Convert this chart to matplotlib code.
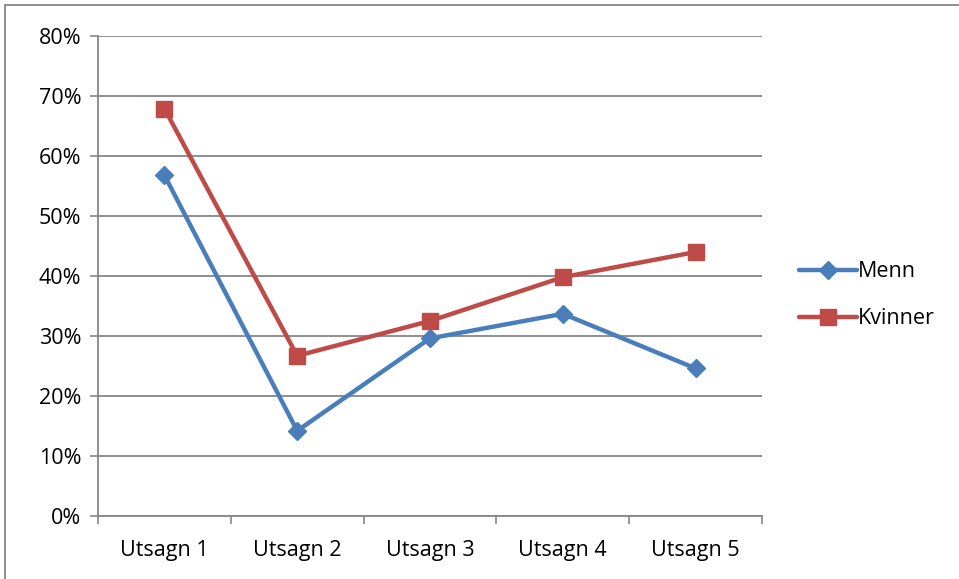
import matplotlib
matplotlib.use('Agg')
import matplotlib.pyplot as plt
from matplotlib.patches import Rectangle
from matplotlib.ticker import FixedLocator, PercentFormatter

categories = ['Utsagn 1', 'Utsagn 2', 'Utsagn 3', 'Utsagn 4', 'Utsagn 5']
menn = [56.8, 14.2, 29.6, 33.7, 24.6]
kvinner = [67.9, 26.7, 32.5, 39.8, 44.0]

plt.rcParams['font.family'] = ['Open Sans', 'DejaVu Sans']

fig = plt.figure(figsize=(9.59, 5.79), dpi=100)
ax = fig.add_axes([98 / 959, 1 - 516 / 579, 664 / 959, 480 / 579])

x = range(len(categories))
ax.plot(x, menn, color='#4A7EBB', lw=3.2, marker='D', ms=9,
        mec='#4A7EBB', label='Menn', solid_joinstyle='round', solid_capstyle='round')
ax.plot(x, kvinner, color='#BE4B48', lw=3.2, marker='s', ms=12,
        mec='#BE4B48', label='Kvinner', solid_joinstyle='round', solid_capstyle='round')

ax.set_xlim(-0.5, len(categories) - 0.5)
ax.set_ylim(0, 80)
ax.set_yticks(range(0, 81, 10))
ax.yaxis.set_major_formatter(PercentFormatter(decimals=0))
ax.set_xticks(list(x))
ax.set_xticklabels(categories)
ax.xaxis.set_minor_locator(FixedLocator([i - 0.5 for i in range(len(categories) + 1)]))
ax.tick_params(axis='x', which='major', length=0, labelsize=15.5, pad=17)
ax.tick_params(axis='x', which='minor', length=6, color='#868686', width=1.2)
ax.tick_params(axis='y', length=6, color='#868686', width=1.2, labelsize=15.5, pad=6)

ax.grid(axis='y', color='#868686', lw=1.3)
ax.set_axisbelow(True)
for s in ['top', 'right']:
    ax.spines[s].set_visible(False)
for s in ['left', 'bottom']:
    ax.spines[s].set_color('#868686')
    ax.spines[s].set_linewidth(1.3)

ax.legend(loc='center left', bbox_to_anchor=(1.0, 0.46), frameon=False,
          fontsize=15.5, handlelength=2.7, handletextpad=0.05, labelspacing=1.2,
          borderaxespad=1.3)

fig.patches.append(Rectangle((5 / 959, -0.1), 1.1, 1 - 5 / 579 + 0.1,
                             transform=fig.transFigure, fill=False,
                             ec='#868686', lw=1.3))

fig.savefig('out.png', dpi=100)
